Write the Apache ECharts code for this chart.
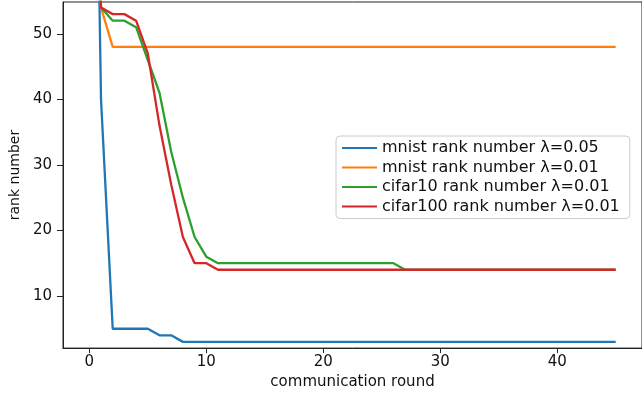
<!DOCTYPE html>
<html>
<head>
<meta charset="utf-8">
<script src="https://cdn.jsdelivr.net/npm/echarts@6/dist/echarts.min.js"></script>
<style>
  html, body { margin: 0; padding: 0; background: #fff; }
  #rank_chart { width: 642px; height: 395px; }
</style>
</head>
<body>
<div id="rank_chart"></div>
<script>
// communication rounds 0..45
var rounds = [0,1,2,3,4,5,6,7,8,9,10,11,12,13,14,15,16,17,18,19,20,21,22,23,24,25,26,27,28,29,30,31,32,33,34,35,36,37,38,39,40,41,42,43,44,45];

// rank numbers (round 0 is off the top of the plot)
var mnist005 = [150,40,5,5,5,5,4,4,3,3,3,3,3,3,3,3,3,3,3,3,3,3,3,3,3,3,3,3,3,3,3,3,3,3,3,3,3,3,3,3,3,3,3,3,3,3];
var mnist001 = [100,54,48,48,48,48,48,48,48,48,48,48,48,48,48,48,48,48,48,48,48,48,48,48,48,48,48,48,48,48,48,48,48,48,48,48,48,48,48,48,48,48,48,48,48,48];
var cifar10 = [100,54,52,52,51,46,41,32,25,19,16,15,15,15,15,15,15,15,15,15,15,15,15,15,15,15,15,14,14,14,14,14,14,14,14,14,14,14,14,14,14,14,14,14,14,14];
var cifar100 = [100,54,53,53,52,47,36,27,19,15,15,14,14,14,14,14,14,14,14,14,14,14,14,14,14,14,14,14,14,14,14,14,14,14,14,14,14,14,14,14,14,14,14,14,14,14];

var seriesNames = ['mnist rank number λ=0.05', 'mnist rank number λ=0.01', 'cifar10 rank number λ=0.01', 'cifar100 rank number λ=0.01'];
var seriesColors = ['#1f77b4', '#ff7f0e', '#2ca02c', '#d62728'];
var xTicks = [0, 10, 20, 30, 40];
var yTicks = [10, 20, 30, 40, 50];

function pairs(vals) {
    var out = [];
    for (var i = 0; i < rounds.length; i++) {
        out.push([rounds[i], vals[i]]);
    }
    return out;
}

var allData = [mnist005, mnist001, cifar10, cifar100];
var series = [];
for (var k = 0; k < allData.length; k++) {
    series.push({
        name: seriesNames[k],
        type: 'line',
        data: pairs(allData[k]),
        symbol: 'none',
        clip: true,
        lineStyle: { color: seriesColors[k], width: 2.3 },
        itemStyle: { color: seriesColors[k] }
    });
}

var font = 'DejaVu Sans';
var myChart = echarts.init(document.getElementById('rank_chart'));
var option = {
    animation: false,
    backgroundColor: '#fff',
    grid: {
        left: 61, top: 2, width: 587, height: 350,
        show: true, borderColor: '#222', borderWidth: 1
    },
    legend: {
        orient: 'vertical',
        left: 336, top: 136,
        data: seriesNames,
        icon: 'rect',
        itemWidth: 35, itemHeight: 2,
        itemGap: 3.5, itemTextGap: 14,
        padding: [4, 10, 4, 6],
        borderColor: '#ccc', borderWidth: 1, borderRadius: 4,
        backgroundColor: 'rgba(255,255,255,0.8)',
        textStyle: { fontFamily: font, fontSize: 16, color: '#111', lineHeight: 16 }
    },
    xAxis: {
        type: 'value',
        min: -2.25, max: 47.25,
        name: 'communication round',
        nameLocation: 'middle',
        nameGap: 25,
        nameTextStyle: { fontFamily: font, fontSize: 15, color: '#111' },
        splitLine: { show: false },
        axisLine: { onZero: false, lineStyle: { color: '#222', width: 1 } },
        axisTick: { customValues: xTicks, length: 5, lineStyle: { color: '#222' } },
        axisLabel: { customValues: xTicks, margin: 7, fontFamily: font, fontSize: 15, color: '#111' }
    },
    yAxis: {
        type: 'value',
        min: 2.05, max: 54.85,
        name: 'rank number',
        nameLocation: 'middle',
        nameGap: 41,
        nameTextStyle: { fontFamily: font, fontSize: 14, color: '#111' },
        splitLine: { show: false },
        axisLine: { show: true, onZero: false, lineStyle: { color: '#222', width: 1 } },
        axisTick: { show: true, customValues: yTicks, length: 6, lineStyle: { color: '#222' } },
        axisLabel: { customValues: yTicks, margin: 11, fontFamily: font, fontSize: 15, color: '#111' }
    },
    series: series
};
myChart.setOption(option);
window.addEventListener('resize', function () {
    myChart.resize();
});
</script>
</body>
</html>
